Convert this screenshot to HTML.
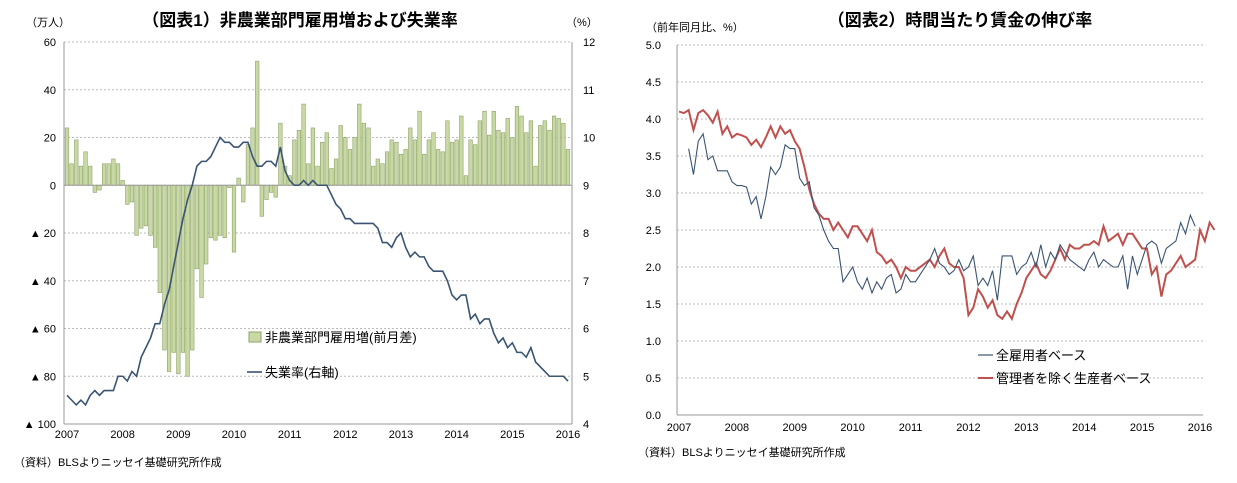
<!DOCTYPE html>
<html><head><meta charset="utf-8"><style>
body{margin:0;background:#fff;width:1237px;height:478px;overflow:hidden;font-family:"Liberation Sans","Noto Sans CJK JP",sans-serif}
svg text{font-family:"Liberation Sans","Noto Sans CJK JP",sans-serif}
</style></head><body>
<svg id="c" width="1237" height="478"></svg>
<script>
const years = ["2007","2008","2009","2010","2011","2012","2013","2014","2015","2016"];
const leftTicks = [60,40,20,0,-20,-40,-60,-80,-100];
const leftTickLabels = ["60","40","20","0","▲ 20","▲ 40","▲ 60","▲ 80","▲ 100"];
const rightTicks = [12,11,10,9,8,7,6,5,4];
const payrolls = [24,9,19,8,14,8,-3,-2,9,9,11,9,
 2,-8,-7,-21,-18,-17,-21,-26,-45,-69,-78,-70,
 -79,-70,-80,-69,-35,-47,-33,-22,-23,-21,-22,-1,
 -28,3,-7,17,24,52,-13,-6,-3,-5,26,8,
 4,19,23,34,9,24,8,18,22,7,11,25,
 20,15,20,34,26,24,8,11,9,14,19,18,
 13,15,24,19,31,13,19,22,15,14,27,18,
 19,29,4,19,17,27,31,21,31,23,22,28,
 20,33,29,22,27,8,25,27,23,29,28,26,15];
const unemployment = [4.6,4.5,4.4,4.5,4.4,4.6,4.7,4.6,4.7,4.7,4.7,5.0,
 5.0,4.9,5.1,5.0,5.4,5.6,5.8,6.1,6.1,6.5,6.8,7.3,
 7.8,8.3,8.7,9.0,9.4,9.5,9.5,9.6,9.8,10.0,9.9,9.9,
 9.8,9.8,9.9,9.9,9.6,9.4,9.4,9.5,9.5,9.4,9.8,9.3,
 9.1,9.0,9.0,9.1,9.0,9.1,9.0,9.0,9.0,8.8,8.6,8.5,
 8.3,8.3,8.2,8.2,8.2,8.2,8.2,8.1,7.8,7.8,7.7,7.9,
 8.0,7.7,7.5,7.6,7.5,7.5,7.3,7.2,7.2,7.2,7.0,6.7,
 6.6,6.7,6.7,6.2,6.3,6.1,6.2,6.2,5.9,5.7,5.8,5.6,
 5.7,5.5,5.5,5.4,5.6,5.3,5.2,5.1,5.0,5.0,5.0,5.0,4.9];
const wageTicks = [5.0,4.5,4.0,3.5,3.0,2.5,2.0,1.5,1.0,0.5,0.0];
const wageAll = [3.6,3.25,3.7,3.8,3.45,3.5,3.3,3.3,3.3,3.15,3.1,3.1,3.08,2.85,2.95,2.65,2.95,3.35,3.25,3.35,3.65,3.6,3.6,3.2,3.1,3.15,2.8,2.7,2.5,2.35,2.25,2.25,1.8,1.9,2.0,1.8,1.7,1.85,1.65,1.8,1.7,1.85,1.9,1.65,1.7,1.9,1.8,1.8,1.9,2.0,2.1,2.25,2.05,2.0,1.9,1.95,2.1,1.95,2.0,2.15,1.75,1.85,1.75,1.95,1.55,2.15,2.15,2.15,1.9,2.0,2.05,2.2,2.0,2.3,2.0,2.2,2.1,2.3,2.2,2.1,2.05,2.0,1.95,2.1,2.2,2.0,2.1,2.05,2.0,2.0,2.15,1.7,2.15,1.9,2.1,2.3,2.35,2.3,2.05,2.25,2.3,2.35,2.6,2.45,2.7,2.55];
const wageProd = [4.1,4.08,4.12,3.85,4.08,4.12,4.05,3.95,4.1,3.8,3.9,3.75,3.8,3.78,3.75,3.65,3.72,3.62,3.75,3.9,3.75,3.9,3.8,3.85,3.7,3.6,3.35,3.05,2.85,2.72,2.65,2.65,2.5,2.6,2.5,2.4,2.55,2.55,2.45,2.35,2.5,2.2,2.15,2.05,2.1,2.0,1.85,2.0,1.95,1.95,2.0,2.05,2.1,2.0,2.15,2.25,2.05,2.0,2.0,1.85,1.35,1.45,1.7,1.6,1.45,1.55,1.35,1.3,1.4,1.3,1.5,1.65,1.85,1.95,2.05,1.9,1.85,1.95,2.1,2.25,2.1,2.3,2.25,2.25,2.3,2.3,2.35,2.3,2.55,2.35,2.4,2.45,2.3,2.45,2.45,2.35,2.25,2.25,1.9,2.0,1.6,1.9,1.95,2.05,2.15,2.0,2.05,2.1,2.5,2.35,2.6,2.5];

const NS="http://www.w3.org/2000/svg";
const svg=document.getElementById('c');
function mk(tag,attrs,parent){const e=document.createElementNS(NS,tag);for(const k in attrs)e.setAttribute(k,attrs[k]);(parent||svg).appendChild(e);return e;}
function txt(s,x,y,size,anchor,weight){const t=mk('text',{x:x,y:y,'font-size':size,'text-anchor':anchor||'start','font-weight':weight||'normal',fill:'#000'});t.textContent=s;return t;}

// ---------- Left chart ----------
const L={x0:64,x1:572,yTop:42,yBot:424};
const ly=v=>L.yTop+(60-v)*(L.yBot-L.yTop)/160;
const ry=v=>L.yTop+(12-v)*(L.yBot-L.yTop)/8;
const mx=i=>67+i*(568-67)/108;
let t=txt('（図表1）非農業部門雇用増および失業率',300,26,17,'middle','bold');

t=txt('（万人）',26,26,11);
t=txt('（%）',566,26,11);
leftTicks.forEach((v,i)=>{
  if(v!==-100){const g=mk('line',{x1:L.x0,x2:L.x1,y1:ly(v),y2:ly(v),stroke:'#bbb','stroke-dasharray':'2,2'});
  }
  const tl=txt(leftTickLabels[i],56,ly(v)+4,11,'end');
  
});
rightTicks.forEach(v=>{const tl=txt(String(v),583,ry(v)+4,11,'start');
  });
let a=mk('line',{x1:L.x0,x2:L.x0,y1:L.yTop,y2:L.yBot,stroke:'#999'});
a=mk('line',{x1:L.x1,x2:L.x1,y1:L.yTop,y2:L.yBot,stroke:'#999'});
a=mk('line',{x1:L.x0,x2:L.x1,y1:ly(-100),y2:ly(-100),stroke:'#999'});
years.forEach((y,i)=>{const tl=txt(y,mx(i*12),438,11,'middle');});
payrolls.forEach((v,i)=>{
  const y0=ly(0),y1=ly(v);
  const b=mk('rect',{x:mx(i)-1.8,y:Math.min(y0,y1),width:3.6,height:Math.abs(y1-y0),fill:'#c9d9a4',stroke:'#8ea26a','stroke-width':0.6});
  
});
a=mk('line',{x1:L.x0,x2:L.x1,y1:ly(0),y2:ly(0),stroke:'#999'});
let p=mk('polyline',{points:unemployment.map((v,i)=>mx(i)+','+ry(v)).join(' '),fill:'none',stroke:'#3b5473','stroke-width':1.6});

let lg=mk('rect',{x:249,y:332,width:12,height:10,fill:'#c9d9a4',stroke:'#8ea26a'});
t=txt('非農業部門雇用増(前月差)',265,342,13);
lg=mk('line',{x1:247,x2:262,y1:372,y2:372,stroke:'#3b5473','stroke-width':1.6});
t=txt('失業率(右軸)',265,377,13);
t=txt('（資料）BLSよりニッセイ基礎研究所作成',14,466,11);

// ---------- Right chart ----------
const R={x0:677,x1:1203,yTop:45,yBot:415};
const wy=v=>R.yBot-v*(R.yBot-R.yTop)/5;
const wx=i=>679+i*(1200-679)/108;
t=txt('（図表2）時間当たり賃金の伸び率',960,26,17,'middle','bold');
t=txt('（前年同月比、%）',646,31,11);
wageTicks.forEach(v=>{
  if(v>0){const g=mk('line',{x1:R.x0,x2:R.x1,y1:wy(v),y2:wy(v),stroke:'#bbb','stroke-dasharray':'2,2'});}
  const tl=txt(v.toFixed(1),661,wy(v)+4,11,'end');
});
a=mk('line',{x1:R.x0,x2:R.x0,y1:R.yTop,y2:R.yBot,stroke:'#999'});
a=mk('line',{x1:R.x0,x2:R.x1,y1:R.yBot,y2:R.yBot,stroke:'#999'});
years.forEach((y,i)=>{const tl=txt(y,wx(i*12),431,11,'middle');});
p=mk('polyline',{points:wageProd.map((v,i)=>wx(i)+','+wy(v)).join(' '),fill:'none',stroke:'#c0504d','stroke-width':2});

p=mk('polyline',{points:wageAll.map((v,i)=>wx(i+2)+','+wy(v)).join(' '),fill:'none',stroke:'#3b5473','stroke-width':1.1});

lg=mk('line',{x1:978,x2:993,y1:355,y2:355,stroke:'#3b5473','stroke-width':1.2});
t=txt('全雇用者ベース',996,360,13);
lg=mk('line',{x1:978,x2:993,y1:378,y2:378,stroke:'#c0504d','stroke-width':2});
t=txt('管理者を除く生産者ベース',996,383,13);
t=txt('（資料）BLSよりニッセイ基礎研究所作成',638,456,11);
</script>
</body></html>
